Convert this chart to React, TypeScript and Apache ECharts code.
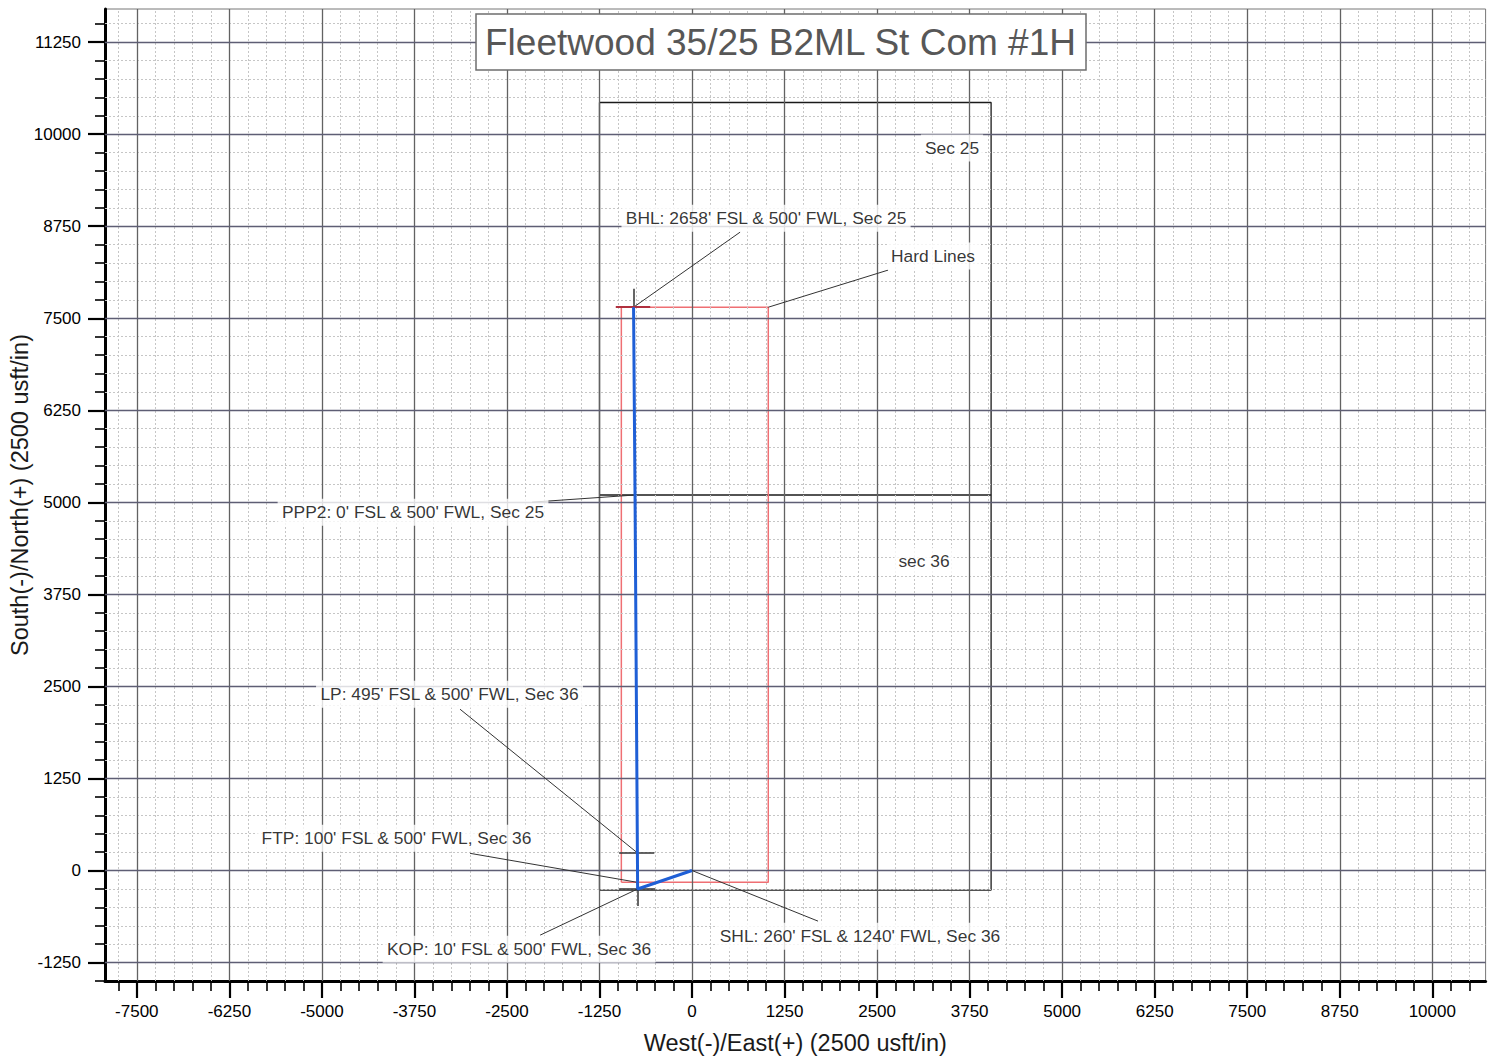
import React, { useEffect, useRef } from "react";
import * as echarts from "echarts";

const FONT = "'Liberation Sans', Arial, Helvetica, sans-serif";

// axis extents (usft)
const X_MIN = -7930;
const X_MAX = 10720;
const Y_MIN = -1500;
const Y_MAX = 11700;
const MAJOR_STEP = 1250;
const MINOR_STEP = 250;

// tick labels
const xTickLabels = [-7500, -6250, -5000, -3750, -2500, -1250, 0, 1250, 2500, 3750, 5000, 6250, 7500, 8750, 10000];
const yTickLabels = [-1250, 0, 1250, 2500, 3750, 5000, 6250, 7500, 8750, 10000, 11250];

// well path: SHL -> KOP -> LP -> PPP2 -> BHL
const wellPath = [
  [0, 0],
  [-735, -250],
  [-738, 240],
  [-770, 5100],
  [-790, 7650],
];

// hard lines rectangle
const hardLines = [
  [-955, -160],
  [1030, -160],
  [1030, 7650],
  [-955, 7650],
  [-955, -160],
];

// section outlines
const sectionOutline = [
  [-1250, -265],
  [4040, -265],
  [4040, 10430],
  [-1250, 10430],
  [-1250, -265],
];
const sectionDivider = [
  [-1250, 5100],
  [4040, 5100],
];

// annotations
const annotationTexts = [
  "BHL: 2658' FSL & 500' FWL, Sec 25",
  "Hard Lines",
  "Sec 25",
  "PPP2: 0' FSL & 500' FWL, Sec 25",
  "sec 36",
  "LP: 495' FSL & 500' FWL, Sec 36",
  "FTP: 100' FSL & 500' FWL, Sec 36",
  "KOP: 10' FSL & 500' FWL, Sec 36",
  "SHL: 260' FSL & 1240' FWL, Sec 36",
];
const annotationAnchors = [
  [1000, 8860],
  [3255, 8344],
  [3512, 9811],
  [-3769, 4866],
  [3134, 4201],
  [-3276, 2395],
  [-3992, 438],
  [-2337, -1069],
  [2269, -891],
];

// leader lines (start near label, end at point)
const leaderStarts = [
  [650, 8670],
  [2648, 8154],
  [-2161, 5003],
  [-3134, 2191],
  [-2999, 234],
  [-2053, -878],
  [1702, -687],
];
const leaderEnds = [
  [-790, 7650],
  [1030, 7650],
  [-770, 5100],
  [-738, 240],
  [-740, -160],
  [-735, -250],
  [0, 0],
];

// station marker ticks
const blackMarkers = [
  [[-790, 7650], [-790, 7900]],
  [[-985, 240], [-510, 240]],
  [[-985, -250], [-500, -250]],
  [[-735, -100], [-735, -480]],
];
const redMarkers = [[[-1030, 7650], [-565, 7650]]];

const TITLE = "Fleetwood 35/25 B2ML St Com #1H";
const X_NAME = "West(-)/East(+) (2500 usft/in)";
const Y_NAME = "South(-)/North(+) (2500 usft/in)";

function stepsIn(min: number, max: number, step: number): number[] {
  const out: number[] = [];
  for (let v = Math.ceil(min / step) * step; v <= max; v += step) out.push(v);
  return out;
}

export default function App() {
  const ref = useRef<HTMLDivElement>(null);

  useEffect(() => {
    if (!ref.current) return;
    const chart = echarts.init(ref.current, undefined, { renderer: "svg" });

    const xMinor = stepsIn(X_MIN, X_MAX, MINOR_STEP).filter((v) => v % MAJOR_STEP !== 0);
    const yMinor = stepsIn(Y_MIN, Y_MAX, MINOR_STEP).filter((v) => v % MAJOR_STEP !== 0);
    const yMinorGrid = yMinor.filter((v) => v > Y_MIN);

    const gridSeries = (
      name: string,
      data: any[],
      color: string,
      width: number,
      type: any
    ) => ({
      name,
      type: "line",
      data: [],
      symbol: "none",
      silent: true,
      z: 1,
      markLine: {
        silent: true,
        symbol: ["none", "none"],
        label: { show: false },
        emphasis: { disabled: true },
        animation: false,
        lineStyle: { color, width, type },
        data,
      },
    });

    const option: any = {
      animation: false,
      backgroundColor: "#ffffff",
      title: {
        text: TITLE,
        left: 476,
        top: 14,
        padding: [9, 9, 9, 9],
        backgroundColor: "#ffffff",
        borderColor: "#6e6e6e",
        borderWidth: 1.5,
        textStyle: {
          fontFamily: FONT,
          fontSize: 37,
          fontWeight: "normal",
          color: "#575757",
          lineHeight: 38,
        },
        z: 10,
      },
      grid: {
        left: 105,
        top: 9,
        right: 13.4,
        bottom: 80,
        containLabel: false,
        outerBoundsMode: "none",
        show: true,
        borderColor: "#777777",
        borderWidth: 1,
        backgroundColor: "transparent",
      },
      xAxis: [
        {
          type: "value",
          min: X_MIN,
          max: X_MAX,
          position: "bottom",
          name: X_NAME,
          nameLocation: "middle",
          nameGap: 50,
          nameMoveOverlap: false,
          nameTextStyle: { fontFamily: FONT, fontSize: 23.5, color: "#1a1a1a" },
          axisLine: { show: true, onZero: false, lineStyle: { color: "#000", width: 3 } },
          axisTick: { show: true, customValues: xTickLabels, length: 17, lineStyle: { color: "#000", width: 2.2 } },
          axisLabel: {
            show: true,
            customValues: xTickLabels,
            margin: 22,
            fontFamily: FONT,
            fontSize: 17,
            color: "#000",
            formatter: (v: number) => String(v),
          },
          splitLine: { show: false },
        },
        {
          type: "value",
          min: X_MIN,
          max: X_MAX,
          position: "bottom",
          offset: 0,
          axisLine: { show: false, onZero: false },
          axisTick: { show: true, customValues: xMinor, length: 10, lineStyle: { color: "#000", width: 1.6 } },
          axisLabel: { show: false },
          splitLine: { show: false },
        },
      ],
      yAxis: [
        {
          type: "value",
          min: Y_MIN,
          max: Y_MAX,
          position: "left",
          name: Y_NAME,
          nameLocation: "middle",
          nameGap: 73,
          nameMoveOverlap: false,
          nameTextStyle: { fontFamily: FONT, fontSize: 23.5, color: "#1a1a1a" },
          axisLine: { show: true, onZero: false, lineStyle: { color: "#000", width: 3 } },
          axisTick: { show: true, customValues: yTickLabels, length: 17, lineStyle: { color: "#000", width: 2.2 } },
          axisLabel: {
            show: true,
            customValues: yTickLabels,
            margin: 24,
            fontFamily: FONT,
            fontSize: 17,
            color: "#000",
            formatter: (v: number) => String(v),
          },
          splitLine: { show: false },
        },
        {
          type: "value",
          min: Y_MIN,
          max: Y_MAX,
          position: "left",
          offset: 0,
          axisLine: { show: false, onZero: false },
          axisTick: { show: true, customValues: yMinor, length: 10, lineStyle: { color: "#000", width: 1.6 } },
          axisLabel: { show: false },
          splitLine: { show: false },
        },
      ],
      series: [
        gridSeries("minorX", xMinor.map((v) => ({ xAxis: v })), "#c6c6c6", 1, [2, 2]),
        gridSeries("minorY", yMinorGrid.map((v) => ({ yAxis: v })), "#c6c6c6", 1, [2, 2]),
        gridSeries("majorX", xTickLabels.map((v) => ({ xAxis: v })), "#626262", 1.3, "solid"),
        gridSeries("majorY", yTickLabels.map((v) => ({ yAxis: v })), "#5e5e74", 1.3, "solid"),
        {
          name: "Section",
          type: "line",
          data: sectionOutline,
          symbol: "none",
          silent: true,
          z: 3,
          lineStyle: { color: "#1a1a1a", width: 1.3 },
        },
        {
          name: "SectionDivider",
          type: "line",
          data: sectionDivider,
          symbol: "none",
          silent: true,
          z: 3,
          lineStyle: { color: "#1a1a1a", width: 1.3 },
        },
        {
          name: "Hard Lines",
          type: "line",
          data: hardLines,
          symbol: "none",
          silent: true,
          z: 4,
          lineStyle: { color: "#ef6f73", width: 1.5 },
        },
        {
          name: "Leaders",
          type: "lines",
          coordinateSystem: "cartesian2d",
          silent: true,
          z: 5,
          lineStyle: { color: "#333333", width: 1, opacity: 1 },
          data: leaderStarts.map((s, i) => ({ coords: [s, leaderEnds[i]] })),
        },
        {
          name: "Markers",
          type: "lines",
          coordinateSystem: "cartesian2d",
          silent: true,
          z: 5,
          lineStyle: { color: "#333333", width: 1.5, opacity: 1 },
          data: blackMarkers.map((c) => ({ coords: c })),
        },
        {
          name: "RedMarkers",
          type: "lines",
          coordinateSystem: "cartesian2d",
          silent: true,
          z: 5,
          lineStyle: { color: "#b0303e", width: 2, opacity: 1 },
          data: redMarkers.map((c) => ({ coords: c })),
        },
        {
          name: "Wellpath",
          type: "line",
          data: wellPath,
          symbol: "none",
          silent: true,
          z: 6,
          lineStyle: { color: "#1f5fd6", width: 3 },
        },
        {
          name: "Annotations",
          type: "scatter",
          silent: true,
          z: 7,
          symbolSize: 1,
          itemStyle: { color: "rgba(0,0,0,0)" },
          label: {
            show: true,
            position: "inside",
            formatter: "{b}",
            fontFamily: FONT,
            fontSize: 17.4,
            color: "#000",
            backgroundColor: "#ffffff",
            padding: [5, 4],
          },
          data: annotationTexts.map((t, i) => ({ name: t, value: annotationAnchors[i] })),
        },
      ],
    };

    chart.setOption(option);
    return () => chart.dispose();
  }, []);

  return (
    <div
      ref={ref}
      style={{ position: "fixed", left: 0, top: 0, width: 1499, height: 1061, background: "#fff" }}
    />
  );
}
